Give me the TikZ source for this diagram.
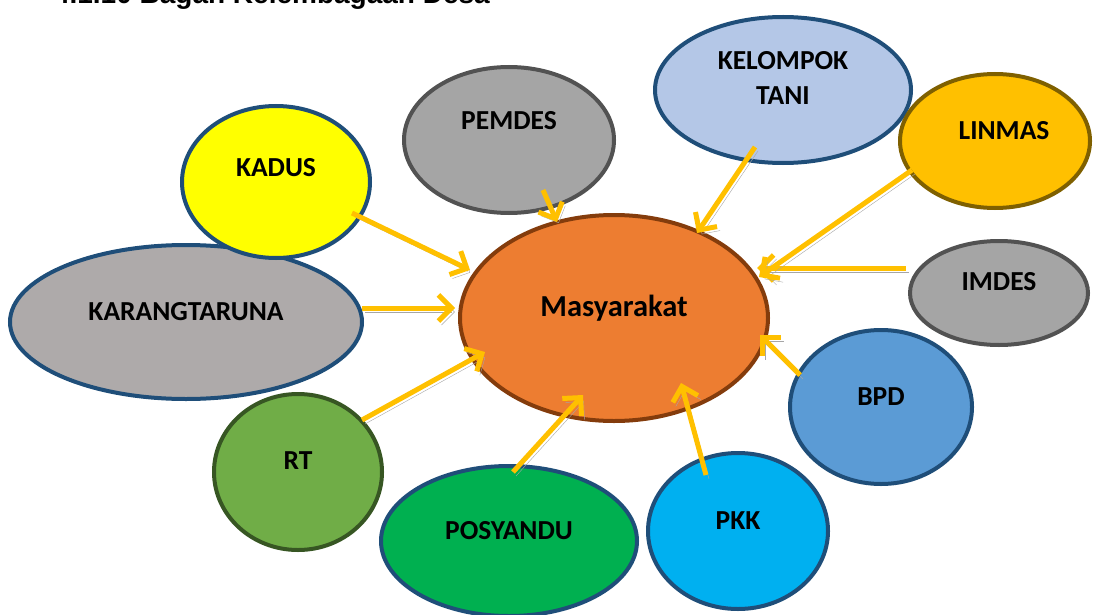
\documentclass[tikz,border=0pt]{standalone}
\usepackage{fontspec}
\setmainfont{Carlito}
\newfontfamily\titlefont{Liberation Sans}
\usetikzlibrary{arrows.meta,shapes.geometric,calc}
\definecolor{arrowc}{HTML}{FFC000}
\definecolor{shadowc}{HTML}{A6A6A6}
\definecolor{dblue}{HTML}{1F4E79}
\definecolor{dgray}{HTML}{525252}
\definecolor{dgold}{HTML}{7F6000}
\definecolor{dgreen}{HTML}{375623}
\definecolor{dbrown}{HTML}{843C0C}
\definecolor{cyellow}{HTML}{FFFF00}
\definecolor{cgrayA}{HTML}{AEAAAA}
\definecolor{cgrayB}{HTML}{A5A5A5}
\definecolor{cltblue}{HTML}{B4C7E7}
\definecolor{cgold}{HTML}{FFC000}
\definecolor{cblue}{HTML}{5B9BD5}
\definecolor{ccyan}{HTML}{00B0F0}
\definecolor{cgreen}{HTML}{00B050}
\definecolor{cltgreen}{HTML}{70AD47}
\definecolor{corange}{HTML}{ED7D31}
\begin{document}
\begin{tikzpicture}[x=1pt,y=-1pt,
  bub/.style={ellipse, line width=4pt, inner sep=0pt},
  lab/.style={font=\bfseries\fontsize{27.5}{35}\selectfont, align=center, text=black},
  arr/.style={draw=arrowc, line width=5pt, -{Straight Barb[length=13pt,width=26pt]},
    preaction={draw=shadowc, transform canvas={shift={(3,4)}}}}]
\useasboundingbox (0,0) rectangle (1099,615);
\clip (0,0) rectangle (1099,615);
% title (cut off at top)
\node[font=\titlefont\bfseries\fontsize{28}{30}\selectfont, anchor=base east, inner sep=0pt] (title) at (490,4) {4.1.10 Bagan Kelembagaan Desa};
% bubbles
\node[bub, fill=cgrayA, draw=dblue, minimum width=352pt, minimum height=154pt] (karang) at (186,322) {};
\node[bub, fill=cyellow, draw=dblue, minimum width=188pt, minimum height=152pt] (kadus) at (276,182) {};
\node[bub, fill=cgrayB, draw=dgray, minimum width=210pt, minimum height=146pt] (pemdes) at (509,140) {};
\node[bub, fill=cltblue, draw=dblue, minimum width=256pt, minimum height=146pt] (tani) at (783,90) {};
\node[bub, fill=cgold, draw=dgold, minimum width=190pt, minimum height=134pt] (linmas) at (995,141) {};
\node[bub, fill=cgrayB, draw=dgray, minimum width=178pt, minimum height=104pt] (imdes) at (999,293) {};
\node[bub, fill=cblue, draw=dblue, minimum width=182pt, minimum height=154pt] (bpd) at (881,407) {};
\node[bub, fill=ccyan, draw=dblue, minimum width=180pt, minimum height=156pt] (pkk) at (738,531) {};
\node[bub, fill=cgreen, draw=dblue, minimum width=256pt, minimum height=150pt] (posy) at (509,541) {};
\node[bub, fill=cltgreen, draw=dgreen, minimum width=168pt, minimum height=156pt] (rt) at (298,472) {};
\node[bub, fill=corange, draw=dbrown, minimum width=308pt, minimum height=206pt] (masy) at (614,318) {};
% labels
\node[lab] (karangL) at (186,312) {KARANGTARUNA};
\node[lab] (kadusL) at (276,168) {KADUS};
\node[lab] (pemdesL) at (509,121) {PEMDES};
\node[lab] (taniL) at (783,78) {KELOMPOK\\TANI};
\node[lab] (linmasL) at (1004,131) {LINMAS};
\node[lab] (imdesL) at (999,282) {IMDES};
\node[lab] (bpdL) at (881,397) {BPD};
\node[lab] (pkkL) at (738,521) {PKK};
\node[lab] (posyL) at (509,531) {POSYANDU};
\node[lab] (rtL) at (298,461) {RT};
\node[lab, font=\bfseries\fontsize{30.5}{36}\selectfont] (masyL) at (614,308) {Masyarakat};
% connector endpoints
\coordinate (kadusA) at (352,213);   \coordinate (m1) at (470,270);
\coordinate (karangA) at (362,308);  \coordinate (m2) at (455,308);
\coordinate (rtA) at (362,420);      \coordinate (m3) at (485,352);
\coordinate (posyA) at (513,472);    \coordinate (m4) at (583,395);
\coordinate (pkkA) at (706,475);     \coordinate (m5) at (681,383);
\coordinate (bpdA) at (800,375);     \coordinate (m6) at (760,335);
\coordinate (imdesA) at (906,268);   \coordinate (m7) at (757,268);
\coordinate (linmasA) at (912,170);  \coordinate (m8) at (759,277);
\coordinate (taniA) at (755,147);    \coordinate (m9) at (697,233);
\coordinate (pemdesA) at (543,190);  \coordinate (m10) at (557,222);
% connectors
\draw[arr] (kadusA) -- (m1);
\draw[arr] (karangA) -- (m2);
\draw[arr] (rtA) -- (m3);
\draw[arr] (posyA) -- (m4);
\draw[arr] (pkkA) -- (m5);
\draw[arr] (bpdA) -- (m6);
\draw[arr] (imdesA) -- (m7);
\draw[arr] (linmasA) -- (m8);
\draw[arr] (taniA) -- (m9);
\draw[arr] (pemdesA) -- (m10);
\end{tikzpicture}
\end{document}
